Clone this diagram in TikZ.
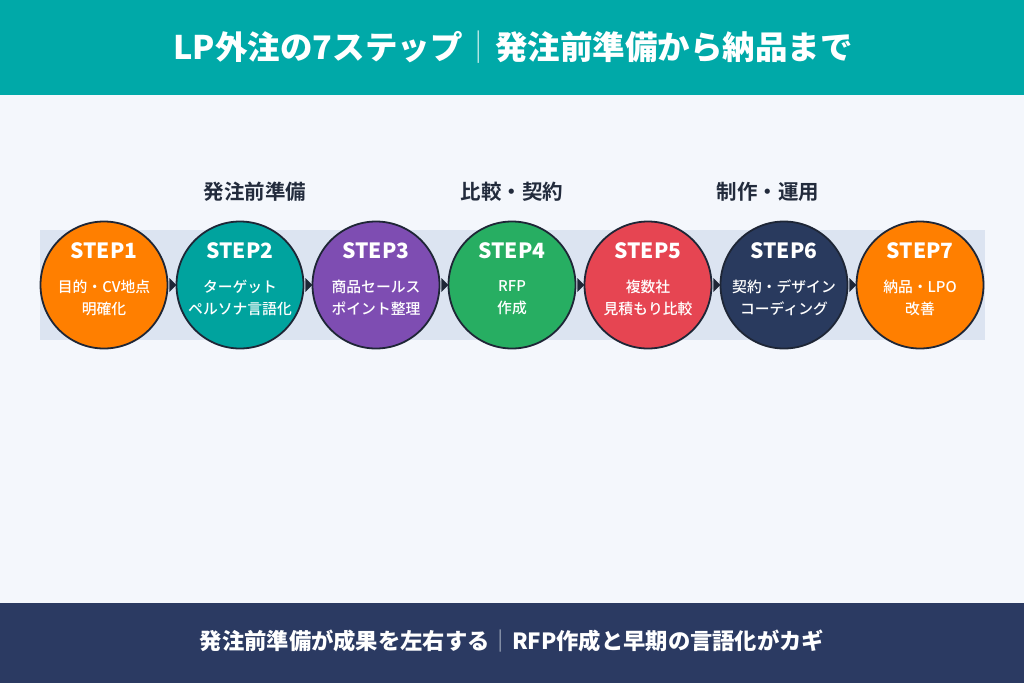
\documentclass[tikz,border=0pt]{standalone}
\usepackage{fontspec}
\setmainfont{Noto Sans CJK JP}[BoldFont={Noto Sans CJK JP Bold}]
\newfontfamily\medfont{Noto Sans CJK JP Medium}
\newfontfamily\blackfont{Noto Sans CJK JP Black}
\usetikzlibrary{calc}
\definecolor{headteal}{HTML}{00A9A8}
\definecolor{bgc}{HTML}{F4F7FC}
\definecolor{bandc}{HTML}{DCE4F1}
\definecolor{footc}{HTML}{2B3A62}
\definecolor{ink}{HTML}{222B3C}
\definecolor{ringc}{HTML}{1E2636}
\definecolor{cone}{HTML}{FF7F00}
\definecolor{ctwo}{HTML}{00A39E}
\definecolor{cthree}{HTML}{7E4DB2}
\definecolor{cfour}{HTML}{27AE62}
\definecolor{cfive}{HTML}{E64552}
\definecolor{csix}{HTML}{293A5E}
\definecolor{divc}{HTML}{B8C0CC}
\tikzset{
  stepc/.style={circle, draw=ringc, line width=1.8pt, minimum size=127pt, inner sep=0pt},
  steptitle/.style={text=white, font=\blackfont\fontsize{21}{24}\selectfont},
  stepsub/.style={text=white, align=center, font=\medfont\fontsize{14.8}{22}\selectfont},
  grouplab/.style={text=ink, font=\bfseries\fontsize{20.5}{24}\selectfont},
  tip/.style={fill=ringc},
}
\begin{document}
\begin{tikzpicture}[x=1pt,y=-1pt]
\useasboundingbox (0,0) rectangle (1024,683);
\fill[bgc] (0,0) rectangle (1024,683);
\fill[headteal] (0,0) rectangle (1024,95);
\fill[footc] (0,603) rectangle (1024,683);
\node[text=white, font=\blackfont\fontsize{32.5}{34}\selectfont] (title) at (513,47)
  {LP外注の7ステップ{\color{white!75!headteal}\mdseries\normalfont｜}発注前準備から納品まで};
\node[text=white, font=\blackfont\fontsize{22.3}{24}\selectfont] (foot) at (512,641)
  {発注前準備が成果を左右する{\color{divc}\normalfont｜}RFP作成と早期の言語化がカギ};
\fill[bandc] (40,230) rectangle (985,340);
\node[grouplab] (g1) at (255,192) {発注前準備};
\node[grouplab] (g2) at (512,192) {比較・契約};
\node[grouplab] (g3) at (768,192) {制作・運用};
\node[stepc, fill=cone] (s1) at (104,285) {};
\node[stepc, fill=ctwo] (s2) at (240,285) {};
\node[stepc, fill=cthree] (s3) at (376,285) {};
\node[stepc, fill=cfour] (s4) at (512,285) {};
\node[stepc, fill=cfive] (s5) at (648,285) {};
\node[stepc, fill=csix] (s6) at (784,285) {};
\node[stepc, fill=cone] (s7) at (920,285) {};
\foreach \a/\b in {s1/s2,s2/s3,s3/s4,s4/s5,s5/s6,s6/s7}{
  \fill[tip] ($(\a.east)+(1,-7)$) -- ($(\a.east)+(8,0)$) -- ($(\a.east)+(1,7)$) -- cycle;
}
\node[steptitle] (t1) at (104,251) {STEP1};
\node[steptitle] (t2) at (240,251) {STEP2};
\node[steptitle] (t3) at (376,251) {STEP3};
\node[steptitle] (t4) at (512,251) {STEP4};
\node[steptitle] (t5) at (648,251) {STEP5};
\node[steptitle] (t6) at (784,251) {STEP6};
\node[steptitle] (t7) at (920,251) {STEP7};
\node[stepsub] (d1) at (104,298) {目的・CV地点\\明確化};
\node[stepsub] (d2) at (240,298) {ターゲット\\ペルソナ言語化};
\node[stepsub] (d3) at (376,298) {商品セールス\\ポイント整理};
\node[stepsub] (d4) at (512,298) {RFP\\作成};
\node[stepsub] (d5) at (648,298) {複数社\\見積もり比較};
\node[stepsub] (d6) at (784,298) {契約・デザイン\\コーディング};
\node[stepsub] (d7) at (920,298) {納品・LPO\\改善};
\end{tikzpicture}
\end{document}
